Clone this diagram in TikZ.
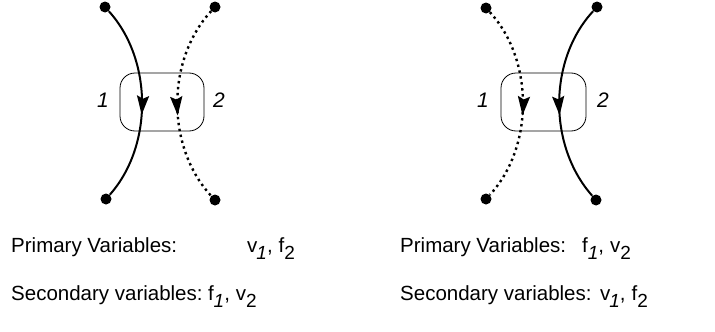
\documentclass[tikz,border=0pt]{standalone}
\usepackage{fontspec}
\setmainfont{Liberation Sans}
\usetikzlibrary{arrows.meta,decorations.markings}
\newcommand{\sbi}[1]{\raisebox{-7pt}{\fontsize{19}{19}\selectfont\itshape #1}}
\newcommand{\sbu}[1]{\raisebox{-7pt}{\fontsize{19}{19}\selectfont #1}}
\newcommand{\gapc}{,\hspace{6pt}}
\begin{document}
\begin{tikzpicture}[x=1pt,y=-1pt,
  txt/.style={font=\fontsize{20.5}{24}\selectfont, inner sep=0pt, anchor=base west},
  num/.style={font=\fontsize{21}{24}\selectfont\itshape, inner sep=0pt},
  pin/.style={circle,fill=black,inner sep=0pt,minimum size=11pt},
  portbox/.style={draw, rounded corners=15pt, line width=0.8pt, minimum height=58pt, inner sep=0pt},
  midarrow/.style={postaction={decorate}, decoration={markings, mark=at position 0.56 with {\arrow{Stealth[length=19pt,width=12pt,inset=3pt]}}}},
  solidwire/.style={line width=2pt, midarrow},
  dotwire/.style={line width=2.4pt, dash pattern=on 2.4pt off 3.6pt, midarrow}
]
\useasboundingbox (0,0) rectangle (715,332);
% left diagram
\node[portbox, minimum width=84pt] (boxL) at (162,102) {};
\node[pin] (La) at (105,7) {};
\node[pin] (Lb) at (106,199) {};
\node[pin] (Lc) at (215,7) {};
\node[pin] (Ld) at (215,200) {};
\draw[solidwire] (La) .. controls (153,60) and (153,146) .. (Lb);
\draw[dotwire] (Lc) .. controls (166,60) and (166,147) .. (Ld);
\node[num] (L1) at (103,100) {1};
\node[num] (L2) at (219,100) {2};
% right diagram
\node[portbox, minimum width=85pt] (boxR) at (543.5,102) {};
\node[pin] (Ra) at (486,8) {};
\node[pin] (Rb) at (486,199) {};
\node[pin] (Rc) at (597,7) {};
\node[pin] (Rd) at (596,200) {};
\draw[dotwire] (Ra) .. controls (534,60) and (534,147) .. (Rb);
\draw[solidwire] (Rc) .. controls (548,60) and (548,146) .. (Rd);
\node[num] (R1) at (483,100) {1};
\node[num] (R2) at (603,100) {2};
% texts
\node[txt] (pL) at (11,252) {Primary Variables:};
\node[txt] (pvL) at (247,252) {v\kern-1pt\sbi{1}\gapc f\sbu{2}};
\node[txt] (sL) at (11,300) {Secondary variables:};
\node[txt] (svL) at ([xshift=5pt]sL.base east) {f\sbi{1}\gapc v\sbu{2}};
\node[txt] (pR) at (400,252) {Primary Variables:};
\node[txt] (pvR) at (582,252) {f\sbi{1}\gapc v\sbu{2}};
\node[txt] (sR) at (400,300) {Secondary variables:};
\node[txt] (svR) at ([xshift=8pt]sR.base east) {v\kern-1pt\sbi{1}\gapc f\sbu{2}};
\end{tikzpicture}
\end{document}
